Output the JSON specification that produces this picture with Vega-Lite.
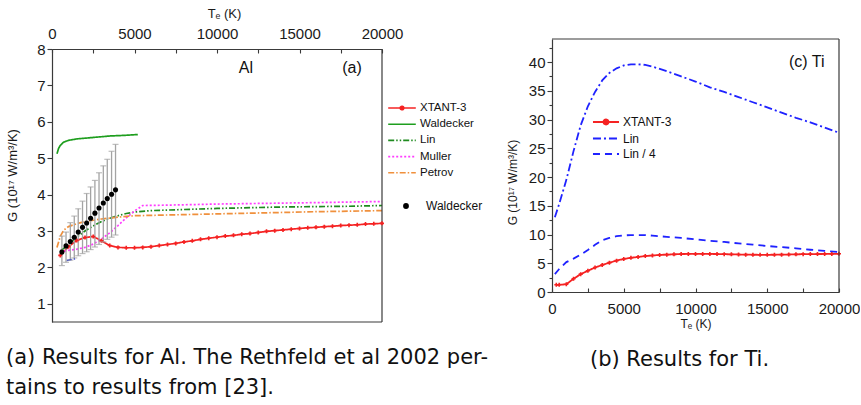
{
  "$schema": "https://vega.github.io/schema/vega-lite/v6.json",
  "background": "white",
  "padding": {"left": 6, "top": 7, "right": 0, "bottom": 0},
  "spacing": 18,
  "resolve": {
    "scale": {"color": "independent", "strokeDash": "independent", "shape": "independent"},
    "legend": {"color": "independent", "strokeDash": "independent", "shape": "independent"}
  },
  "datasets": {
    "alCurves": [
      {"series": "XTANT-3", "T": 500, "G": 2.33}, {"series": "XTANT-3", "T": 1000, "G": 2.57},
      {"series": "XTANT-3", "T": 1500, "G": 2.74}, {"series": "XTANT-3", "T": 2000, "G": 2.82},
      {"series": "XTANT-3", "T": 2500, "G": 2.85}, {"series": "XTANT-3", "T": 3000, "G": 2.73},
      {"series": "XTANT-3", "T": 3500, "G": 2.6}, {"series": "XTANT-3", "T": 4000, "G": 2.55},
      {"series": "XTANT-3", "T": 4500, "G": 2.54}, {"series": "XTANT-3", "T": 5000, "G": 2.54},
      {"series": "XTANT-3", "T": 5500, "G": 2.55}, {"series": "XTANT-3", "T": 6000, "G": 2.57},
      {"series": "XTANT-3", "T": 6500, "G": 2.6}, {"series": "XTANT-3", "T": 7000, "G": 2.63},
      {"series": "XTANT-3", "T": 7500, "G": 2.66}, {"series": "XTANT-3", "T": 8000, "G": 2.7},
      {"series": "XTANT-3", "T": 8500, "G": 2.73}, {"series": "XTANT-3", "T": 9000, "G": 2.77},
      {"series": "XTANT-3", "T": 9500, "G": 2.8}, {"series": "XTANT-3", "T": 10000, "G": 2.83},
      {"series": "XTANT-3", "T": 10500, "G": 2.86}, {"series": "XTANT-3", "T": 11000, "G": 2.88},
      {"series": "XTANT-3", "T": 11500, "G": 2.91}, {"series": "XTANT-3", "T": 12000, "G": 2.93},
      {"series": "XTANT-3", "T": 12500, "G": 2.96}, {"series": "XTANT-3", "T": 13000, "G": 2.99},
      {"series": "XTANT-3", "T": 13500, "G": 3.01}, {"series": "XTANT-3", "T": 14000, "G": 3.03},
      {"series": "XTANT-3", "T": 14500, "G": 3.05}, {"series": "XTANT-3", "T": 15000, "G": 3.07},
      {"series": "XTANT-3", "T": 15500, "G": 3.09}, {"series": "XTANT-3", "T": 16000, "G": 3.1},
      {"series": "XTANT-3", "T": 16500, "G": 3.12}, {"series": "XTANT-3", "T": 17000, "G": 3.13},
      {"series": "XTANT-3", "T": 17500, "G": 3.15}, {"series": "XTANT-3", "T": 18000, "G": 3.16},
      {"series": "XTANT-3", "T": 18500, "G": 3.17}, {"series": "XTANT-3", "T": 19000, "G": 3.19},
      {"series": "XTANT-3", "T": 19500, "G": 3.2}, {"series": "XTANT-3", "T": 20000, "G": 3.21},
      {"series": "Waldecker", "T": 300, "G": 5.12}, {"series": "Waldecker", "T": 400, "G": 5.27},
      {"series": "Waldecker", "T": 500, "G": 5.35}, {"series": "Waldecker", "T": 700, "G": 5.44},
      {"series": "Waldecker", "T": 1000, "G": 5.49}, {"series": "Waldecker", "T": 1500, "G": 5.53},
      {"series": "Waldecker", "T": 2000, "G": 5.55}, {"series": "Waldecker", "T": 2500, "G": 5.57},
      {"series": "Waldecker", "T": 3000, "G": 5.59}, {"series": "Waldecker", "T": 3500, "G": 5.61},
      {"series": "Waldecker", "T": 4000, "G": 5.62}, {"series": "Waldecker", "T": 4500, "G": 5.63},
      {"series": "Waldecker", "T": 5200, "G": 5.65},
      {"series": "Lin", "T": 500, "G": 2.45}, {"series": "Lin", "T": 1000, "G": 2.62},
      {"series": "Lin", "T": 1500, "G": 2.83}, {"series": "Lin", "T": 2000, "G": 3.0},
      {"series": "Lin", "T": 2500, "G": 3.14}, {"series": "Lin", "T": 3000, "G": 3.26},
      {"series": "Lin", "T": 3500, "G": 3.35}, {"series": "Lin", "T": 4000, "G": 3.42},
      {"series": "Lin", "T": 4500, "G": 3.48}, {"series": "Lin", "T": 5000, "G": 3.52},
      {"series": "Lin", "T": 6000, "G": 3.56}, {"series": "Lin", "T": 8000, "G": 3.59},
      {"series": "Lin", "T": 10000, "G": 3.62}, {"series": "Lin", "T": 12000, "G": 3.64},
      {"series": "Lin", "T": 14000, "G": 3.66}, {"series": "Lin", "T": 16000, "G": 3.67},
      {"series": "Lin", "T": 18000, "G": 3.68}, {"series": "Lin", "T": 20000, "G": 3.7},
      {"series": "Muller", "T": 500, "G": 2.42}, {"series": "Muller", "T": 1000, "G": 2.47},
      {"series": "Muller", "T": 1500, "G": 2.5}, {"series": "Muller", "T": 2000, "G": 2.55},
      {"series": "Muller", "T": 2500, "G": 2.64}, {"series": "Muller", "T": 3000, "G": 2.78},
      {"series": "Muller", "T": 3500, "G": 2.95}, {"series": "Muller", "T": 4000, "G": 3.15},
      {"series": "Muller", "T": 4500, "G": 3.36}, {"series": "Muller", "T": 5000, "G": 3.55},
      {"series": "Muller", "T": 5500, "G": 3.7}, {"series": "Muller", "T": 7000, "G": 3.71},
      {"series": "Muller", "T": 10000, "G": 3.74}, {"series": "Muller", "T": 13000, "G": 3.76},
      {"series": "Muller", "T": 16000, "G": 3.78}, {"series": "Muller", "T": 20000, "G": 3.81},
      {"series": "Petrov", "T": 300, "G": 2.55}, {"series": "Petrov", "T": 500, "G": 2.85},
      {"series": "Petrov", "T": 700, "G": 3.02}, {"series": "Petrov", "T": 1000, "G": 3.12},
      {"series": "Petrov", "T": 1500, "G": 3.2}, {"series": "Petrov", "T": 2000, "G": 3.26},
      {"series": "Petrov", "T": 3000, "G": 3.33}, {"series": "Petrov", "T": 4000, "G": 3.38},
      {"series": "Petrov", "T": 5000, "G": 3.42}, {"series": "Petrov", "T": 7000, "G": 3.44},
      {"series": "Petrov", "T": 10000, "G": 3.47}, {"series": "Petrov", "T": 13000, "G": 3.5},
      {"series": "Petrov", "T": 16000, "G": 3.53}, {"series": "Petrov", "T": 20000, "G": 3.56}
    ],
    "alRethfeld": [
      {"T": 900, "G": 2.19}, {"T": 1400, "G": 2.24}
    ],
    "alMeasured": [
      {"src": "Waldecker", "T": 600, "G": 2.42, "lo": 2.05, "hi": 2.86},
      {"src": "Waldecker", "T": 850, "G": 2.59, "lo": 2.14, "hi": 2.97},
      {"src": "Waldecker", "T": 1110, "G": 2.71, "lo": 2.2, "hi": 3.23},
      {"src": "Waldecker", "T": 1350, "G": 2.83, "lo": 2.26, "hi": 3.41},
      {"src": "Waldecker", "T": 1590, "G": 2.97, "lo": 2.32, "hi": 3.61},
      {"src": "Waldecker", "T": 1850, "G": 3.1, "lo": 2.38, "hi": 3.82},
      {"src": "Waldecker", "T": 2100, "G": 3.22, "lo": 2.43, "hi": 4.03},
      {"src": "Waldecker", "T": 2340, "G": 3.35, "lo": 2.49, "hi": 4.21},
      {"src": "Waldecker", "T": 2600, "G": 3.49, "lo": 2.56, "hi": 4.39},
      {"src": "Waldecker", "T": 2850, "G": 3.63, "lo": 2.63, "hi": 4.6},
      {"src": "Waldecker", "T": 3110, "G": 3.77, "lo": 2.7, "hi": 4.79},
      {"src": "Waldecker", "T": 3350, "G": 3.89, "lo": 2.77, "hi": 4.97},
      {"src": "Waldecker", "T": 3610, "G": 4.01, "lo": 2.83, "hi": 5.19},
      {"src": "Waldecker", "T": 3850, "G": 4.13, "lo": 2.89, "hi": 5.38}
    ],
    "alNotes": [
      {"T": 11750, "G": 7.47, "note": "Al"},
      {"T": 18180, "G": 7.47, "note": "(a)"}
    ],
    "tiCurves": [
      {"series": "XTANT-3", "T": 300, "G": 1.25}, {"series": "XTANT-3", "T": 500, "G": 1.25},
      {"series": "XTANT-3", "T": 1000, "G": 1.35}, {"series": "XTANT-3", "T": 1500, "G": 2.3},
      {"series": "XTANT-3", "T": 2000, "G": 3.1}, {"series": "XTANT-3", "T": 2500, "G": 3.7},
      {"series": "XTANT-3", "T": 3000, "G": 4.25}, {"series": "XTANT-3", "T": 3500, "G": 4.7},
      {"series": "XTANT-3", "T": 4000, "G": 5.1}, {"series": "XTANT-3", "T": 4500, "G": 5.45},
      {"series": "XTANT-3", "T": 5000, "G": 5.75}, {"series": "XTANT-3", "T": 5500, "G": 5.95},
      {"series": "XTANT-3", "T": 6000, "G": 6.1}, {"series": "XTANT-3", "T": 6500, "G": 6.25},
      {"series": "XTANT-3", "T": 7000, "G": 6.35}, {"series": "XTANT-3", "T": 7500, "G": 6.45},
      {"series": "XTANT-3", "T": 8000, "G": 6.5}, {"series": "XTANT-3", "T": 8500, "G": 6.55},
      {"series": "XTANT-3", "T": 9000, "G": 6.6}, {"series": "XTANT-3", "T": 9500, "G": 6.62},
      {"series": "XTANT-3", "T": 10000, "G": 6.63}, {"series": "XTANT-3", "T": 10500, "G": 6.63},
      {"series": "XTANT-3", "T": 11000, "G": 6.62}, {"series": "XTANT-3", "T": 11500, "G": 6.6},
      {"series": "XTANT-3", "T": 12000, "G": 6.58}, {"series": "XTANT-3", "T": 12500, "G": 6.55},
      {"series": "XTANT-3", "T": 13000, "G": 6.52}, {"series": "XTANT-3", "T": 13500, "G": 6.5},
      {"series": "XTANT-3", "T": 14000, "G": 6.48}, {"series": "XTANT-3", "T": 14500, "G": 6.47},
      {"series": "XTANT-3", "T": 15000, "G": 6.47}, {"series": "XTANT-3", "T": 15500, "G": 6.48},
      {"series": "XTANT-3", "T": 16000, "G": 6.5}, {"series": "XTANT-3", "T": 16500, "G": 6.52},
      {"series": "XTANT-3", "T": 17000, "G": 6.55}, {"series": "XTANT-3", "T": 17500, "G": 6.58},
      {"series": "XTANT-3", "T": 18000, "G": 6.6}, {"series": "XTANT-3", "T": 18500, "G": 6.6},
      {"series": "XTANT-3", "T": 19000, "G": 6.62}, {"series": "XTANT-3", "T": 19500, "G": 6.63},
      {"series": "XTANT-3", "T": 20000, "G": 6.65},
      {"series": "Lin", "T": 200, "G": 13.0}, {"series": "Lin", "T": 500, "G": 15.3},
      {"series": "Lin", "T": 1000, "G": 19.5}, {"series": "Lin", "T": 1500, "G": 24.5},
      {"series": "Lin", "T": 2000, "G": 29.0}, {"series": "Lin", "T": 2500, "G": 32.3},
      {"series": "Lin", "T": 3000, "G": 34.8}, {"series": "Lin", "T": 3500, "G": 36.8},
      {"series": "Lin", "T": 4000, "G": 38.1}, {"series": "Lin", "T": 4500, "G": 38.9},
      {"series": "Lin", "T": 5000, "G": 39.4}, {"series": "Lin", "T": 5500, "G": 39.6},
      {"series": "Lin", "T": 6000, "G": 39.6}, {"series": "Lin", "T": 6500, "G": 39.5},
      {"series": "Lin", "T": 7000, "G": 39.2}, {"series": "Lin", "T": 8000, "G": 38.4},
      {"series": "Lin", "T": 9000, "G": 37.5}, {"series": "Lin", "T": 10000, "G": 36.6},
      {"series": "Lin", "T": 11000, "G": 35.6}, {"series": "Lin", "T": 12000, "G": 34.8},
      {"series": "Lin", "T": 13000, "G": 33.9}, {"series": "Lin", "T": 14000, "G": 33.0},
      {"series": "Lin", "T": 15000, "G": 32.1}, {"series": "Lin", "T": 16000, "G": 31.2},
      {"series": "Lin", "T": 17000, "G": 30.3}, {"series": "Lin", "T": 18000, "G": 29.5},
      {"series": "Lin", "T": 19000, "G": 28.6}, {"series": "Lin", "T": 20000, "G": 27.7},
      {"series": "Lin / 4", "T": 200, "G": 3.1}, {"series": "Lin / 4", "T": 500, "G": 4.0},
      {"series": "Lin / 4", "T": 1000, "G": 5.2}, {"series": "Lin / 4", "T": 1500, "G": 5.8},
      {"series": "Lin / 4", "T": 2000, "G": 6.5}, {"series": "Lin / 4", "T": 2500, "G": 7.3},
      {"series": "Lin / 4", "T": 3000, "G": 8.2}, {"series": "Lin / 4", "T": 3500, "G": 9.0},
      {"series": "Lin / 4", "T": 4000, "G": 9.4}, {"series": "Lin / 4", "T": 4500, "G": 9.7},
      {"series": "Lin / 4", "T": 5000, "G": 9.85}, {"series": "Lin / 4", "T": 5500, "G": 9.9},
      {"series": "Lin / 4", "T": 6000, "G": 9.9}, {"series": "Lin / 4", "T": 6500, "G": 9.9},
      {"series": "Lin / 4", "T": 7000, "G": 9.8}, {"series": "Lin / 4", "T": 8000, "G": 9.6},
      {"series": "Lin / 4", "T": 9000, "G": 9.4}, {"series": "Lin / 4", "T": 10000, "G": 9.15},
      {"series": "Lin / 4", "T": 11000, "G": 8.9}, {"series": "Lin / 4", "T": 12000, "G": 8.7},
      {"series": "Lin / 4", "T": 13000, "G": 8.45}, {"series": "Lin / 4", "T": 14000, "G": 8.25},
      {"series": "Lin / 4", "T": 15000, "G": 8.0}, {"series": "Lin / 4", "T": 16000, "G": 7.8},
      {"series": "Lin / 4", "T": 17000, "G": 7.6}, {"series": "Lin / 4", "T": 18000, "G": 7.35},
      {"series": "Lin / 4", "T": 19000, "G": 7.15}, {"series": "Lin / 4", "T": 20000, "G": 6.95}
    ],
    "tiNotes": [
      {"T": 17750, "G": 40.0, "note": "(c) Ti"}
    ]
  },
  "hconcat": [
    {
      "width": 330,
      "height": 283,
      "title": {
        "text": ["(a) Results for Al. The Rethfeld et al 2002 per-", "tains to results from [23]."],
        "orient": "bottom", "anchor": "start", "frame": "bounds",
        "font": "DejaVu Sans", "fontSize": 21, "fontWeight": "normal", "color": "#111",
        "lineHeight": 30, "offset": 24
      },
      "resolve": {"scale": {"x": "independent", "y": "independent"}},
      "layer": [
        {
          "data": {"name": "alCurves"},
          "mark": {"type": "line", "strokeWidth": 1.7},
          "encoding": {
            "x": {
              "field": "T", "type": "quantitative",
              "scale": {"domain": [0, 20000], "nice": false},
              "axis": {
                "orient": "top", "offset": -10, "format": "d",
                "values": [0, 2500, 5000, 7500, 10000, 12500, 15000, 17500, 20000],
                "labelExpr": "datum.value % 5000 === 0 ? datum.label : ''",
                "tickSize": -4, "labelPadding": 12, "labelFontSize": 15,
                "title": "Tₑ (K)", "titleFontSize": 13, "titlePadding": 6, "titleX": 172
              }
            },
            "y": {
              "field": "G", "type": "quantitative",
              "scale": {"domain": [0.5, 8], "range": [283, 10], "nice": false, "zero": false},
              "axis": {
                "orient": "left", "format": "d",
                "values": [1, 1.5, 2, 2.5, 3, 3.5, 4, 4.5, 5, 5.5, 6, 6.5, 7, 7.5, 8],
                "labelExpr": "datum.value % 1 === 0 ? datum.label : ''",
                "tickSize": {"condition": {"test": "datum.value % 1 === 0", "value": 5}, "value": 3},
                "labelPadding": 2, "labelFontSize": 15,
                "title": "G (10¹⁷ W/m³/K)", "titleFontSize": 13, "titleX": -33, "titleY": 136
              }
            },
            "color": {
              "field": "series", "type": "nominal",
              "scale": {
                "domain": ["XTANT-3", "Waldecker", "Lin", "Muller", "Petrov"],
                "range": ["#f52222", "#1e9e1e", "#1f8a1f", "#ff3cff", "#f0903c"]
              },
              "legend": {
                "orient": "none", "legendX": 343, "legendY": 62, "title": null, "padding": 0,
                "symbolType": "M-2.3,0H2.3", "symbolSize": 144, "symbolStrokeWidth": 1.6,
                "labelFontSize": 11.5, "labelOffset": 11, "rowPadding": 3.2, "labelColor": "#111",
                "encode": {"symbols": {"update": {
                  "shape": {"signal": "datum.value === 'XTANT-3' ? 'M-2.3,0H2.3M-0.3,0A0.3,0.3,0,1,1,0.3,0A0.3,0.3,0,1,1,-0.3,0' : 'M-2.3,0H2.3'"},
                  "fill": {"value": "#f52222"}
                }}}
              }
            },
            "strokeDash": {
              "field": "series", "type": "nominal",
              "scale": {
                "domain": ["XTANT-3", "Waldecker", "Lin", "Muller", "Petrov"],
                "range": [[1, 0], [1, 0], [6, 2, 1.5, 2, 1.5, 2], [2, 2], [6, 2, 1.5, 2]]
              },
              "legend": {
                "orient": "none", "legendX": 343, "legendY": 62, "title": null, "padding": 0,
                "symbolType": "M-2.3,0H2.3", "symbolSize": 144, "symbolStrokeWidth": 1.6,
                "labelFontSize": 11.5, "labelOffset": 11, "rowPadding": 3.2, "labelColor": "#111"
              }
            }
          }
        },
        {
          "data": {"name": "alMeasured"},
          "mark": {"type": "rule", "color": "#a3a3a3", "strokeWidth": 1.3},
          "encoding": {
            "x": {"field": "T", "type": "quantitative", "scale": {"domain": [0, 20000], "nice": false}, "axis": null},
            "y": {"field": "lo", "type": "quantitative", "scale": {"domain": [0.5, 8], "range": [283, 10], "nice": false, "zero": false}, "axis": null},
            "y2": {"field": "hi"}
          }
        },
        {
          "data": {"values": [{}]},
          "mark": {"type": "rule", "color": "#3a3a3a", "strokeWidth": 1.2},
          "encoding": {
            "x": {"datum": 20000, "type": "quantitative", "scale": {"domain": [0, 20000], "nice": false}, "axis": null},
            "y": {"datum": 0.5, "type": "quantitative", "scale": {"domain": [0.5, 8], "range": [283, 10], "nice": false, "zero": false}, "axis": null},
            "y2": {"datum": 8}
          }
        },
        {
          "data": {"values": [{}]},
          "mark": {"type": "rule", "color": "#3a3a3a", "strokeWidth": 1.2},
          "encoding": {
            "x": {"datum": 0, "type": "quantitative", "scale": {"domain": [0, 20000], "nice": false}, "axis": null},
            "x2": {"datum": 20000},
            "y": {"datum": 0.5, "type": "quantitative", "scale": {"domain": [0.5, 8], "range": [283, 10], "nice": false, "zero": false}, "axis": null}
          }
        },
        {
          "data": {"name": "alCurves"},
          "transform": [{"filter": "datum.series === 'XTANT-3'"}],
          "mark": {"type": "point", "shape": "cross", "filled": true, "size": 16, "color": "#f52222", "opacity": 1},
          "encoding": {
            "x": {"field": "T", "type": "quantitative", "scale": {"domain": [0, 20000], "nice": false}, "axis": null},
            "y": {"field": "G", "type": "quantitative", "scale": {"domain": [0.5, 8], "range": [283, 10], "nice": false, "zero": false}, "axis": null}
          }
        },
        {
          "data": {"name": "alRethfeld"},
          "mark": {"type": "line", "strokeWidth": 1.5, "color": "#2b3bd0", "strokeDash": [5, 2]},
          "encoding": {
            "x": {"field": "T", "type": "quantitative", "scale": {"domain": [0, 20000], "nice": false}, "axis": null},
            "y": {"field": "G", "type": "quantitative", "scale": {"domain": [0.5, 8], "range": [283, 10], "nice": false, "zero": false}, "axis": null}
          }
        },
        {
          "data": {"name": "alMeasured"},
          "mark": {"type": "tick", "orient": "horizontal", "size": 6, "thickness": 1.2, "color": "#a3a3a3"},
          "encoding": {
            "x": {"field": "T", "type": "quantitative", "scale": {"domain": [0, 20000], "nice": false}, "axis": null},
            "y": {"field": "hi", "type": "quantitative", "scale": {"domain": [0.5, 8], "range": [283, 10], "nice": false, "zero": false}, "axis": null}
          }
        },
        {
          "data": {"name": "alMeasured"},
          "mark": {"type": "tick", "orient": "horizontal", "size": 6, "thickness": 1.2, "color": "#a3a3a3"},
          "encoding": {
            "x": {"field": "T", "type": "quantitative", "scale": {"domain": [0, 20000], "nice": false}, "axis": null},
            "y": {"field": "lo", "type": "quantitative", "scale": {"domain": [0.5, 8], "range": [283, 10], "nice": false, "zero": false}, "axis": null}
          }
        },
        {
          "data": {"name": "alMeasured"},
          "mark": {"type": "point", "filled": true, "size": 26, "color": "black", "opacity": 1},
          "encoding": {
            "x": {"field": "T", "type": "quantitative", "scale": {"domain": [0, 20000], "nice": false}, "axis": null},
            "y": {"field": "G", "type": "quantitative", "scale": {"domain": [0.5, 8], "range": [283, 10], "nice": false, "zero": false}, "axis": null},
            "shape": {
              "field": "src", "type": "nominal",
              "scale": {"domain": ["Waldecker"], "range": ["circle"]},
              "legend": {
                "orient": "none", "legendX": 348, "legendY": 161, "title": null, "padding": 0,
                "symbolSize": 34, "symbolFillColor": "black", "symbolStrokeWidth": 0,
                "labelFontSize": 12, "labelOffset": 14, "labelColor": "#111"
              }
            }
          }
        },
        {
          "data": {"name": "alNotes"},
          "mark": {"type": "text", "fontSize": 16, "color": "#111", "align": "center", "baseline": "middle"},
          "encoding": {
            "x": {"field": "T", "type": "quantitative", "scale": {"domain": [0, 20000], "nice": false}, "axis": null},
            "y": {"field": "G", "type": "quantitative", "scale": {"domain": [0.5, 8], "range": [283, 10], "nice": false, "zero": false}, "axis": null},
            "text": {"field": "note"}
          }
        }
      ]
    },
    {
      "width": 287,
      "height": 253,
      "title": {
        "text": "(b) Results for Ti.",
        "orient": "bottom", "anchor": "middle",
        "font": "DejaVu Sans", "fontSize": 21, "fontWeight": "normal", "color": "#111",
        "offset": 20, "dx": -16
      },
      "resolve": {"scale": {"x": "independent", "y": "independent"}},
      "layer": [
        {
          "data": {"name": "tiCurves"},
          "mark": {"type": "line", "strokeWidth": 1.8},
          "encoding": {
            "x": {
              "field": "T", "type": "quantitative",
              "scale": {"domain": [0, 20000], "nice": false},
              "axis": {
                "orient": "bottom", "format": "d",
                "values": [0, 2500, 5000, 7500, 10000, 12500, 15000, 17500, 20000],
                "labelExpr": "datum.value % 5000 === 0 ? datum.label : ''",
                "tickSize": -4, "labelPadding": 13, "labelFontSize": 15,
                "title": "Tₑ (K)", "titleFontSize": 12, "titlePadding": 2
              }
            },
            "y": {
              "field": "G", "type": "quantitative",
              "scale": {"domain": [0, 44], "nice": false, "zero": false},
              "axis": {
                "orient": "left", "format": "d",
                "values": [0, 2.5, 5, 7.5, 10, 12.5, 15, 17.5, 20, 22.5, 25, 27.5, 30, 32.5, 35, 37.5, 40, 42.5],
                "labelExpr": "datum.value % 5 === 0 ? datum.label : ''",
                "tickSize": {"condition": {"test": "datum.value % 5 === 0", "value": 5}, "value": 3},
                "labelPadding": 2, "labelFontSize": 15,
                "title": "G (10¹⁷ W/m³/K)", "titleFontSize": 12, "titleX": -33, "titleY": 143
              }
            },
            "color": {
              "field": "series", "type": "nominal",
              "scale": {"domain": ["XTANT-3", "Lin", "Lin / 4"], "range": ["#f52222", "#1f22ff", "#1f22ff"]},
              "legend": {
                "orient": "none", "legendX": 47, "legendY": 76, "title": null, "padding": 0,
                "symbolType": "M-2.17,0H2.17", "symbolSize": 144, "symbolStrokeWidth": 1.8,
                "labelFontSize": 12, "labelOffset": 10, "rowPadding": 2.5, "labelColor": "#111",
                "encode": {"symbols": {"update": {
                  "shape": {"signal": "datum.value === 'XTANT-3' ? 'M-2.17,0H2.17M-0.42,0A0.42,0.42,0,1,1,0.42,0A0.42,0.42,0,1,1,-0.42,0' : 'M-2.17,0H2.17'"},
                  "fill": {"value": "#f52222"}
                }}}
              }
            },
            "strokeDash": {
              "field": "series", "type": "nominal",
              "scale": {"domain": ["XTANT-3", "Lin", "Lin / 4"], "range": [[1, 0], [8, 3, 2, 3], [7, 5]]},
              "legend": {
                "orient": "none", "legendX": 47, "legendY": 76, "title": null, "padding": 0,
                "symbolType": "M-2.17,0H2.17", "symbolSize": 144, "symbolStrokeWidth": 1.8,
                "labelFontSize": 12, "labelOffset": 10, "rowPadding": 2.5, "labelColor": "#111"
              }
            }
          }
        },
        {
          "data": {"name": "tiCurves"},
          "transform": [{"filter": "datum.series === 'XTANT-3'"}],
          "mark": {"type": "point", "shape": "cross", "filled": true, "size": 16, "color": "#f52222", "opacity": 1},
          "encoding": {
            "x": {"field": "T", "type": "quantitative", "scale": {"domain": [0, 20000], "nice": false}, "axis": null},
            "y": {"field": "G", "type": "quantitative", "scale": {"domain": [0, 44], "nice": false, "zero": false}, "axis": null}
          }
        },
        {
          "data": {"values": [{}]},
          "mark": {"type": "rule", "color": "#3a3a3a", "strokeWidth": 1.2},
          "encoding": {
            "x": {"datum": 20000, "type": "quantitative", "scale": {"domain": [0, 20000], "nice": false}, "axis": null},
            "y": {"datum": 0, "type": "quantitative", "scale": {"domain": [0, 44], "nice": false, "zero": false}, "axis": null},
            "y2": {"datum": 44}
          }
        },
        {
          "data": {"values": [{}]},
          "mark": {"type": "rule", "color": "#3a3a3a", "strokeWidth": 1.2},
          "encoding": {
            "x": {"datum": 0, "type": "quantitative", "scale": {"domain": [0, 20000], "nice": false}, "axis": null},
            "x2": {"datum": 20000},
            "y": {"datum": 44, "type": "quantitative", "scale": {"domain": [0, 44], "nice": false, "zero": false}, "axis": null}
          }
        },
        {
          "data": {"name": "tiNotes"},
          "mark": {"type": "text", "fontSize": 16, "color": "#111", "align": "center", "baseline": "middle"},
          "encoding": {
            "x": {"field": "T", "type": "quantitative", "scale": {"domain": [0, 20000], "nice": false}, "axis": null},
            "y": {"field": "G", "type": "quantitative", "scale": {"domain": [0, 44], "nice": false, "zero": false}, "axis": null},
            "text": {"field": "note"}
          }
        }
      ]
    }
  ],
  "config": {
    "font": "Liberation Sans",
    "view": {"stroke": null},
    "axis": {
      "grid": false, "domainColor": "#3a3a3a", "tickColor": "#3a3a3a", "domainWidth": 1.2, "tickWidth": 1.1,
      "labelColor": "#1a1a1a", "titleColor": "#1a1a1a", "titleFontWeight": "normal",
      "labelFlush": false, "labelOverlap": false, "titleFont": "Liberation Sans", "labelFont": "Liberation Sans"
    },
    "legend": {"labelFont": "Liberation Sans"}
  }
}
